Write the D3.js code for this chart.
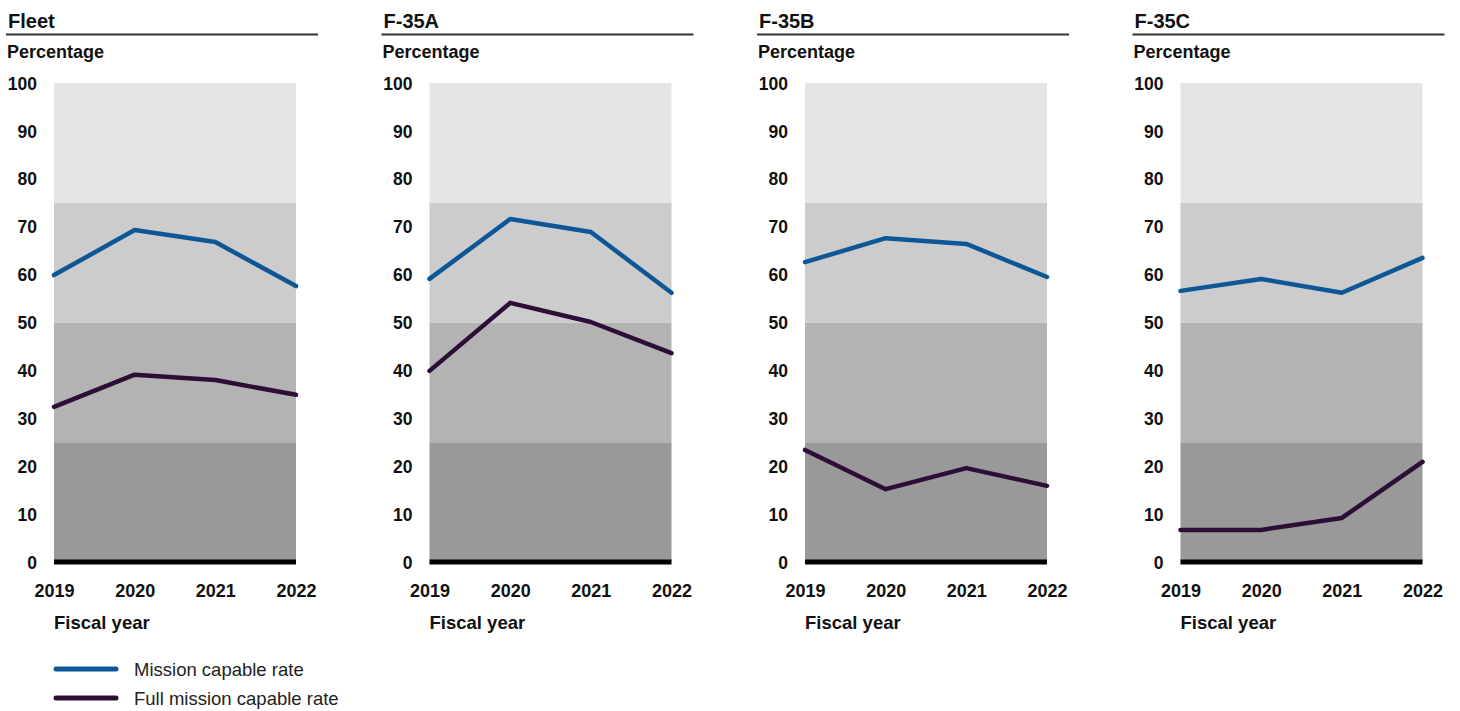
<!DOCTYPE html>
<html><head><meta charset="utf-8">
<script src="https://cdn.jsdelivr.net/npm/d3@7"></script>
<style>
html,body{margin:0;padding:0;background:#fff;}
svg{display:block;font-family:"Liberation Sans",Arial,sans-serif;}
</style></head>
<body>
<svg id="chart" width="1460" height="711"></svg>
<script>
const years = ["2019","2020","2021","2022"];
const panelTitles = ["Fleet","F-35A","F-35B","F-35C"];
const missionCapable = [
  [59.9, 69.3, 66.8, 57.6],
  [59.1, 71.6, 68.9, 56.2],
  [62.6, 67.6, 66.4, 59.5],
  [56.6, 59.1, 56.2, 63.5]
];
const fullMissionCapable = [
  [32.4, 39.1, 38.0, 34.9],
  [39.9, 54.1, 50.1, 43.6],
  [23.4, 15.2, 19.6, 15.9],
  [6.7, 6.7, 9.2, 20.9]
];
const yTicks = [0,10,20,30,40,50,60,70,80,90,100];
const bands = [[0,25],[25,50],[50,75],[75,100]];
const bandColors = ["#999999","#b3b3b3","#cccccc","#e5e5e5"];
const seriesNames = ["Mission capable rate","Full mission capable rate"];
const seriesColors = ["#0e5797","#2d0e36"];

const svg = d3.select("#chart");
svg.append("defs").append("clipPath").attr("id","pageclip")
  .append("rect").attr("x",0).attr("y",0).attr("width",1444).attr("height",711);

const panelStep = 375.5;
const plotW = 242;
const y = d3.scaleLinear().domain([0,100]).range([562,83]);
const FONT = "'Liberation Sans',Arial,sans-serif";

panelTitles.forEach((title,i)=>{
  const px = 6 + i*panelStep;
  const left = px + 48;
  const g = svg.append("g");
  const x = d3.scalePoint().domain(years).range([left,left+plotW]);

  g.append("text").attr("x",px+2).attr("y",28).attr("font-size",20).attr("font-weight","bold").attr("fill","#111").text(title);
  g.append("line").attr("x1",px).attr("x2",px+312).attr("y1",34.5).attr("y2",34.5).attr("stroke","#333").attr("stroke-width",2);
  g.append("text").attr("x",px+1).attr("y",58).attr("font-size",18).attr("font-weight","bold").attr("fill","#111").text("Percentage");

  bands.forEach((b,j)=>{
    g.append("rect").attr("x",left).attr("width",plotW)
      .attr("y",y(b[1])).attr("height",y(b[0])-y(b[1])).attr("fill",bandColors[j]);
  });

  const yAxis = d3.axisLeft(y).tickValues(yTicks).tickSize(0).tickPadding(0);
  const ya = g.append("g").attr("transform",`translate(${px+31},0)`).call(yAxis);
  ya.select(".domain").remove();
  ya.selectAll("text").attr("font-size",17.5).attr("font-weight","bold").attr("fill","#111")
    .attr("font-family",FONT).attr("dy","0.35em");

  g.append("line").attr("x1",left).attr("x2",left+plotW).attr("y1",y(0)).attr("y2",y(0)).attr("stroke","#000").attr("stroke-width",5);

  const xAxis = d3.axisBottom(x).tickSize(0).tickPadding(0);
  const xa = g.append("g").attr("clip-path","url(#pageclip)").append("g")
    .attr("transform",`translate(0,584)`).call(xAxis);
  xa.select(".domain").remove();
  xa.selectAll("text").attr("font-size",18).attr("font-weight","bold").attr("fill","#111")
    .attr("font-family",FONT);

  g.append("text").attr("x",left).attr("y",629).attr("font-size",18.5).attr("font-weight","bold").attr("fill","#111").text("Fiscal year");

  const line = d3.line().x((d,k)=>x(years[k])).y(d=>y(d));
  [missionCapable[i], fullMissionCapable[i]].forEach((vals,s)=>{
    g.append("path").datum(vals).attr("d",line).attr("fill","none")
      .attr("stroke",seriesColors[s]).attr("stroke-width",4.5).attr("stroke-linejoin","round").attr("stroke-linecap","round");
  });
});

seriesNames.forEach((name,s)=>{
  const ly = 669 + s*29;
  svg.append("line").attr("x1",56).attr("x2",116).attr("y1",ly).attr("y2",ly)
    .attr("stroke",seriesColors[s]).attr("stroke-width",5).attr("stroke-linecap","round");
  svg.append("text").attr("x",134).attr("y",ly+7).attr("font-size",18.5).attr("fill","#222").text(name);
});
</script>
</body></html>
